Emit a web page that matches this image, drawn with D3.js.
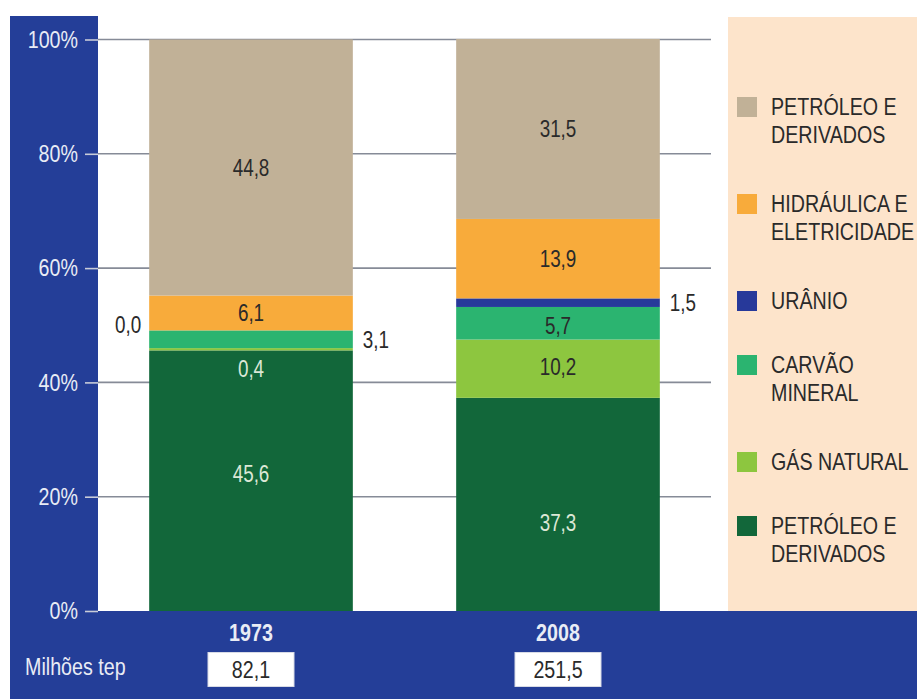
<!DOCTYPE html>
<html><head><meta charset="utf-8">
<script src="https://cdn.jsdelivr.net/npm/d3@7"></script>
<style>
body{margin:0;background:#fff;}
svg{display:block;font-family:"Liberation Sans",Arial,sans-serif;}
</style></head>
<body><svg id="c" width="917" height="699"></svg>
<script>
// ---- data ----
const years = ["1973", "2008"];
const totals = ["82,1", "251,5"];
const seriesNames = ["PETRÓLEO E DERIVADOS (base)", "GÁS NATURAL", "CARVÃO MINERAL", "URÂNIO", "HIDRÁULICA E ELETRICIDADE", "PETRÓLEO E DERIVADOS (topo)"];
const petroleoBase = [45.6, 37.3];
const gasNatural = [0.4, 10.2];
const carvaoMineral = [3.1, 5.7];
const uranio = [0.0, 1.5];
const hidraulica = [6.1, 13.9];
const petroleoTopo = [44.8, 31.5];
const seriesColors = ["#12673a", "#8dc63f", "#2bb470", "#27399a", "#f8ab3b", "#c1b197"];
const legendLines = [
  ["PETRÓLEO E", "DERIVADOS"],
  ["HIDRÁULICA E", "ELETRICIDADE"],
  ["URÂNIO"],
  ["CARVÃO", "MINERAL"],
  ["GÁS NATURAL"],
  ["PETRÓLEO E", "DERIVADOS"]
];
const legendSeriesIndex = [5, 4, 3, 2, 1, 0];
const yTicks = [0, 20, 40, 60, 80, 100];
const yLabelTitle = "Milhões tep";

// ---- layout ----
const svg = d3.select("#c");
const BLUE = "#243e98";
const SX = 0.82; // condensed look
const plotL = 98, plotR = 711;
const y = d3.scaleLinear().domain([0, 100]).range([611, 39.5]);
const x = d3.scaleBand().domain(years).range([plotL, plotR]).paddingInner(0.3366).paddingOuter(0.1667);

function addText(g, tx, ty, str, o) {
  o = o || {};
  return g.append("text")
    .attr("transform", `translate(${tx},${ty}) scale(${SX},1)`)
    .attr("text-anchor", o.anchor || "start")
    .attr("dy", o.dy || null)
    .attr("fill", o.fill || "#2a2a2a")
    .style("font-size", (o.size || 24) + "px")
    .style("font-weight", o.bold ? "bold" : null)
    .text(str);
}

// backgrounds
svg.append("rect").attr("x", 10).attr("y", 16).attr("width", 88).attr("height", 683).attr("fill", BLUE);
svg.append("rect").attr("x", 10).attr("y", 611).attr("width", 907).attr("height", 88).attr("fill", BLUE);
svg.append("rect").attr("x", 728).attr("y", 17).attr("width", 189).attr("height", 594).attr("fill", "#fde4cb");

// gridlines
svg.append("g").selectAll("line").data(yTicks.filter(d => d > 0)).join("line")
  .attr("x1", plotL).attr("x2", plotR).attr("y1", d => y(d)).attr("y2", d => y(d))
  .attr("stroke", "#868b97").attr("stroke-width", 1.6);

// y axis
const yAxis = d3.axisLeft(y).tickValues(yTicks).tickFormat(d => d + "%").tickSize(13).tickPadding(7);
const ga = svg.append("g").attr("transform", `translate(${plotL},0)`).call(yAxis);
ga.select(".domain").remove();
ga.selectAll(".tick line").attr("stroke", "#c9ccd8").attr("stroke-width", 1.6);
ga.selectAll(".tick text").each(function () {
  const t = d3.select(this);
  const tx = +t.attr("x");
  t.attr("x", 0).attr("transform", `translate(${tx},0) scale(${SX},1)`);
}).attr("fill", "#e9ecf5").style("font-size", "24px")
  .style("font-family", '"Liberation Sans",Arial,sans-serif');

// stack
const rows = years.map((yr, i) => ({year: yr, vals: [petroleoBase[i], gasNatural[i], carvaoMineral[i], uranio[i], hidraulica[i], petroleoTopo[i]]}));
const keys = d3.range(seriesNames.length);
const stack = d3.stack().keys(keys).value((d, k) => d.vals[k]);
const stacked = stack(rows);

const gBars = svg.append("g");
stacked.forEach((layer, k) => {
  gBars.selectAll(null).data(layer).join("rect")
    .attr("x", d => x(d.data.year)).attr("width", x.bandwidth())
    .attr("y", d => y(d[1])).attr("height", d => Math.max(0, y(d[0]) - y(d[1])))
    .attr("fill", seriesColors[k]);
});

// value labels
const fmt = v => v.toFixed(1).replace(".", ",");
const place = {
  "1973|0": {pos: "in", dy: -7, fill: "#dce8d6"},
  "1973|1": {pos: "below", dy: 19, fill: "#dce8d6"},
  "1973|2": {pos: "right", dy: 1},
  "1973|3": {pos: "left", dy: -5},
  "1973|4": {pos: "in", dy: 0},
  "1973|5": {pos: "in", dy: 0},
  "2008|0": {pos: "in", dy: 19, fill: "#dce8d6"},
  "2008|1": {pos: "in", dy: -2},
  "2008|2": {pos: "in", dy: 3},
  "2008|3": {pos: "right", dy: 0},
  "2008|4": {pos: "in", dy: 0},
  "2008|5": {pos: "in", dy: 0}
};
const gLab = svg.append("g");
stacked.forEach((layer, k) => {
  layer.forEach(d => {
    const p = place[d.data.year + "|" + k];
    const x0 = x(d.data.year), bw = x.bandwidth();
    let tx = x0 + bw / 2, anchor = "middle";
    let ty = (y(d[0]) + y(d[1])) / 2;
    if (p.pos === "left") { tx = x0 - 8; anchor = "end"; }
    if (p.pos === "right") { tx = x0 + bw + 10; anchor = "start"; }
    if (p.pos === "below") { ty = y(d[0]); }
    addText(gLab, tx, ty + p.dy, fmt(d.data.vals[k]), {anchor, dy: "0.35em", fill: p.fill || "#2a2a2a", size: 23});
  });
});

// x labels and totals
const gx = svg.append("g");
years.forEach((yr, i) => {
  const cx = x(yr) + x.bandwidth() / 2;
  addText(gx, cx, 633, yr, {anchor: "middle", dy: "0.35em", fill: "#e9ecf5", size: 24, bold: true});
  gx.append("rect").attr("x", cx - 43).attr("y", 652.5).attr("width", 86).attr("height", 34)
    .attr("fill", "#fff").attr("stroke", "#d8dbe6").attr("stroke-width", 1);
  addText(gx, cx, 669.5, totals[i], {anchor: "middle", dy: "0.35em", fill: "#2a2a2a", size: 24});
});
addText(gx, 25, 667, yLabelTitle, {dy: "0.35em", fill: "#e9ecf5", size: 24});

// legend
const gl = svg.append("g");
let ly = 97;
legendLines.forEach((lines, i) => {
  gl.append("rect").attr("x", 737).attr("y", ly).attr("width", 20).attr("height", 20)
    .attr("fill", seriesColors[legendSeriesIndex[i]]);
  lines.forEach((t, j) => {
    addText(gl, 771, ly + 18 + j * 28, t, {fill: "#2a2a2a", size: 24});
  });
  ly += lines.length === 2 ? 97 : 64;
});
</script></body></html>
